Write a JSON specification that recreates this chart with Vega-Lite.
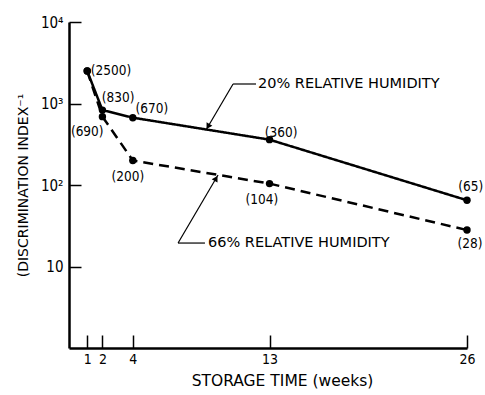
{
  "$schema": "https://vega.github.io/schema/vega-lite/v6.json",
  "autosize": "none",
  "width": 398,
  "height": 326,
  "padding": {"left": 69, "top": 22, "right": 18, "bottom": 47},
  "background": "white",
  "config": {
    "view": {"stroke": null},
    "font": "DejaVu Sans Condensed",
    "axis": {"grid": false, "domainColor": "black", "domainWidth": 2.5, "tickColor": "black", "tickWidth": 1.5, "labelColor": "black", "titleColor": "black", "labelFont": "DejaVu Sans Condensed", "titleFont": "DejaVu Sans", "labelFontSize": 15, "titleFontSize": 14, "titleFontWeight": "normal"}
  },
  "datasets": {
    "series": [
      {"week": 1, "index": 2500, "rh": "20%"},
      {"week": 2, "index": 830, "rh": "20%"},
      {"week": 4, "index": 670, "rh": "20%"},
      {"week": 13, "index": 360, "rh": "20%"},
      {"week": 26, "index": 65, "rh": "20%"},
      {"week": 1, "index": 2500, "rh": "66%"},
      {"week": 2, "index": 690, "rh": "66%"},
      {"week": 4, "index": 200, "rh": "66%"},
      {"week": 13, "index": 104, "rh": "66%"},
      {"week": 26, "index": 28, "rh": "66%"}
    ],
    "labels": [
      {"x": 2.56, "y": 2505, "t": "(2500)"},
      {"x": 3.03, "y": 1168, "t": "(830)"},
      {"x": 5.26, "y": 856, "t": "(670)"},
      {"x": 1.0, "y": 447, "t": "(690)"},
      {"x": 3.68, "y": 125, "t": "(200)"},
      {"x": 13.76, "y": 435, "t": "(360)"},
      {"x": 12.5, "y": 65.5, "t": "(104)"},
      {"x": 26.25, "y": 94.5, "t": "(65)"},
      {"x": 26.2, "y": 18.9, "t": "(28)"}
    ],
    "leaders": [
      {"x": 10.6, "y": 1735, "x2": 12.11, "y2": 1735},
      {"x": 10.6, "y": 1735, "x2": 8.82, "y2": 473},
      {"x": 6.98, "y": 19.4, "x2": 8.75, "y2": 19.4},
      {"x": 6.98, "y": 19.4, "x2": 9.61, "y2": 132.7}
    ],
    "arrows": [
      {"x": 8.95, "y": 522, "rh": "20%"},
      {"x": 9.48, "y": 120.5, "rh": "66%"}
    ],
    "notes": [
      {"x": 12.24, "y": 1735, "t": "20% RELATIVE HUMIDITY"},
      {"x": 8.95, "y": 19.4, "t": "66% RELATIVE HUMIDITY"}
    ]
  },
  "layer": [
    {
      "data": {"name": "series"},
      "mark": {"type": "line", "color": "black", "strokeWidth": 2.5},
      "encoding": {
        "x": {"field": "week", "type": "quantitative",
          "scale": {"domain": [-0.2, 26], "nice": false, "zero": false},
          "axis": {"values": [1, 2, 4, 13, 26], "tickSize": -13, "labelPadding": 17, "labelFontSize": 14, "title": "STORAGE TIME (weeks)", "titleFontSize": 15.5, "titlePadding": 7, "titleX": 213, "labelFlush": false}},
        "y": {"field": "index", "type": "quantitative",
          "scale": {"type": "log", "domain": [1, 10000], "nice": false},
          "axis": {"values": [10, 100, 1000, 10000], "tickSize": -12, "labelPadding": 18,
            "labelExpr": "datum.value == 10 ? '10' : datum.value == 100 ? '10²' : datum.value == 1000 ? '10³' : '10⁴'",
            "title": "(DISCRIMINATION INDEX⁻¹", "titlePadding": 10}},
        "detail": {"field": "rh"},
        "strokeDash": {"field": "rh", "type": "nominal", "scale": {"domain": ["20%", "66%"], "range": [[1, 0], [10, 6]]}, "legend": null}
      }
    },
    {
      "data": {"name": "series"},
      "mark": {"type": "point", "filled": true, "color": "black", "opacity": 1, "size": 55},
      "encoding": {
        "x": {"field": "week", "type": "quantitative"},
        "y": {"field": "index", "type": "quantitative"}
      }
    },
    {
      "data": {"name": "labels"},
      "mark": {"type": "text", "fontSize": 13.5, "color": "black", "align": "center", "baseline": "middle"},
      "encoding": {
        "x": {"field": "x", "type": "quantitative"},
        "y": {"field": "y", "type": "quantitative"},
        "text": {"field": "t"}
      }
    },
    {
      "data": {"name": "leaders"},
      "mark": {"type": "rule", "color": "black", "strokeWidth": 1.2},
      "encoding": {
        "x": {"field": "x", "type": "quantitative"},
        "y": {"field": "y", "type": "quantitative"},
        "x2": {"field": "x2"},
        "y2": {"field": "y2"}
      }
    },
    {
      "data": {"name": "arrows"},
      "mark": {"type": "point", "shape": "triangle-up", "filled": true, "color": "black", "opacity": 1, "size": 45},
      "encoding": {
        "x": {"field": "x", "type": "quantitative"},
        "y": {"field": "y", "type": "quantitative"},
        "angle": {"field": "rh", "type": "nominal", "scale": {"domain": ["20%", "66%"], "range": [210, 30]}, "legend": null}
      }
    },
    {
      "data": {"name": "notes"},
      "mark": {"type": "text", "font": "DejaVu Sans", "fontSize": 14.5, "color": "black", "align": "left", "baseline": "middle"},
      "encoding": {
        "x": {"field": "x", "type": "quantitative"},
        "y": {"field": "y", "type": "quantitative"},
        "text": {"field": "t"}
      }
    }
  ]
}
